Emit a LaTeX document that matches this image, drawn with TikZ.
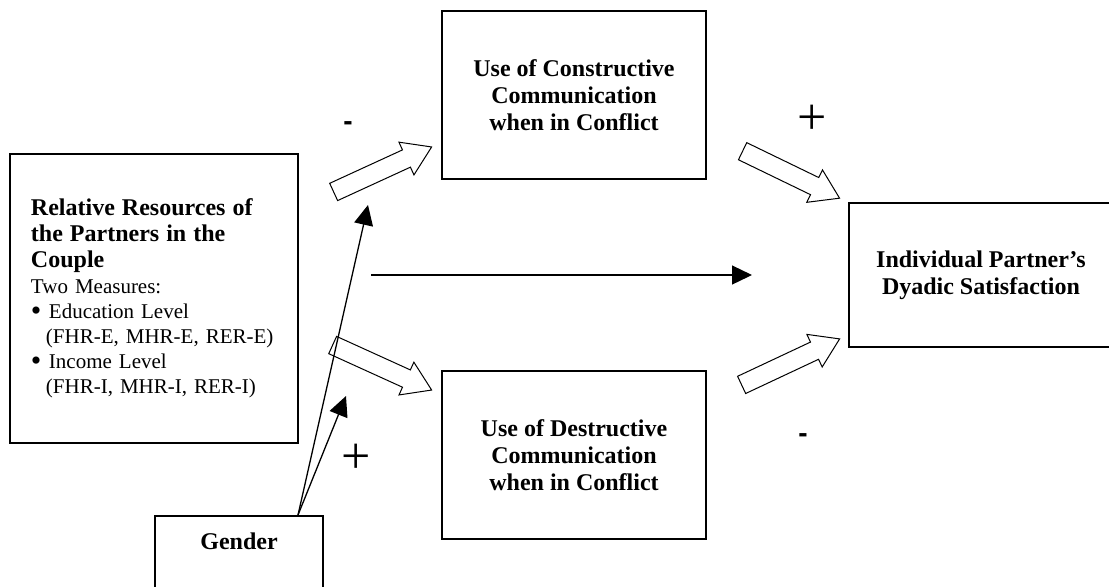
\documentclass[tikz,border=0pt]{standalone}
\usepackage{fontspec}
\setmainfont{Liberation Serif}
\newfontfamily\signfont{Liberation Sans}
\usepackage{tikz}
\usetikzlibrary{positioning,calc,shapes.arrows,arrows.meta}

\begin{document}
\begin{tikzpicture}[x=0.5pt,y=-0.5pt,
    box/.style={draw, line width=1pt},
    title/.style={align=center, font=\fontsize{12}{13.5}\selectfont\bfseries},
    hollow/.style={draw, line width=0.5pt, single arrow, inner sep=0pt, inner ysep=4.5pt, minimum width=17.5pt, single arrow head extend=4.25pt, single arrow tip angle=66},
    blockarrow/.style={to path={let \p1=($(\tikztotarget)-(\tikztostart)$), \n1={veclen(\x1,\y1)} in -- (\tikztotarget) node[midway, sloped, hollow, minimum height=\n1] {}}},
    thin/.style={line width=0.65pt, -{Triangle[length=10pt,width=9.5pt]}},
    plus/.style={font=\fontsize{26}{26}\selectfont},
    minus/.style={font=\signfont\fontsize{14}{14}\selectfont\bfseries}]
  \useasboundingbox (0,0) rectangle (1109,586);
  \clip (0,0) rectangle (1109,586);

  \node[box, minimum width=144pt, minimum height=144.5pt, text width=123pt, align=left,
        font=\fontsize{10.5}{12.5}\selectfont] (res) at (154,298.5)
    {\textbf{\fontsize{12}{13}\selectfont Relative Resources of}\\[0.5pt]
     \textbf{\fontsize{12}{13}\selectfont the Partners in the}\\[0.5pt]
     \textbf{\fontsize{12}{13}\selectfont Couple}\\[0.5pt]
     Two Measures:\\
     \makebox[9pt][l]{\raisebox{-1pt}{\fontsize{15}{12}\selectfont\textbullet}}Education Level\\
     \hspace*{7.5pt}(FHR-E, MHR-E, RER-E)\\
     \makebox[9pt][l]{\raisebox{-1pt}{\fontsize{15}{12}\selectfont\textbullet}}Income Level\\
     \hspace*{7.5pt}(FHR-I, MHR-I, RER-I)};
  \node[box, title, minimum width=132pt, minimum height=84.25pt] (con) at (574,94.75)
    {Use of Constructive\\Communication\\when in Conflict};
  \node[box, title, minimum width=132pt, minimum height=84pt] (des) at (574,455)
    {Use of Destructive\\Communication\\when in Conflict};
  \node[box, title, minimum width=132pt, minimum height=72pt] (sat) at (981,275)
    {Individual Partner’s\\Dyadic Satisfaction};
  \node[box, title, anchor=north west, minimum width=84pt, inner ysep=8pt, text height=8.5pt, text depth=40pt] (gender) at (154,515) {Gender};

  \coordinate (a1s) at (327,195); \coordinate (a1e) at (425,150);
  \coordinate (a2s) at (326,342); \coordinate (a2e) at (425,387);
  \coordinate (a3s) at (736,148); \coordinate (a3e) at (833,195);
  \coordinate (a4s) at (735,388); \coordinate (a4e) at (833,342);
  \path (a1s) to[blockarrow] (a1e);
  \path (a2s) to[blockarrow] (a2e);
  \path (a3s) to[blockarrow] (a3e);
  \path (a4s) to[blockarrow] (a4e);

  \draw[thin, shorten <=36pt, shorten >=48pt] (res.east |- sat.west) -- (sat.west);

  \coordinate (gsrc) at (298,515);
  \coordinate (modup) at (368,205);
  \coordinate (modlow) at (346,396);
  \draw[thin] (gsrc) -- (modup);
  \draw[thin] (gsrc) -- (modlow);

  \node[minus] (m1) at (348,126) {-};
  \node[plus] (p1) at (812,120) {+};
  \node[plus] (p2) at (356,459) {+};
  \node[minus] (m2) at (803,438) {-};
\end{tikzpicture}
\end{document}
